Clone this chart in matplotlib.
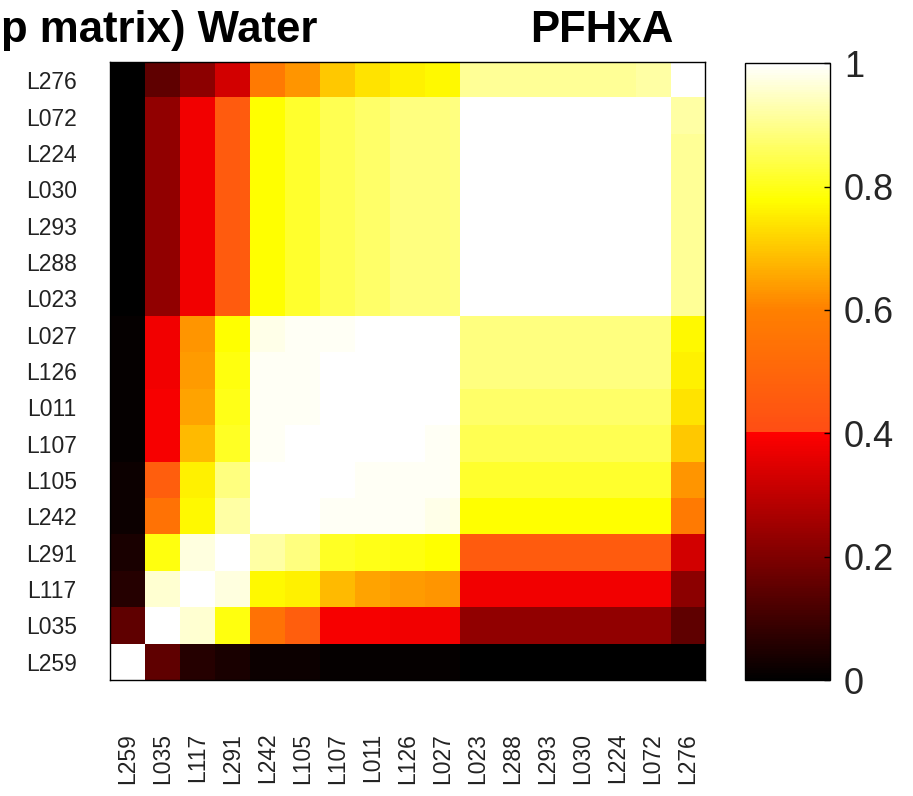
import numpy as np
import matplotlib
matplotlib.use("Agg")
import matplotlib.pyplot as plt
from matplotlib.colors import LinearSegmentedColormap

plt.rcParams['font.family'] = ['Liberation Sans', 'DejaVu Sans']

# sample order (bottom -> top on y, left -> right on x)
labels = ["L259", "L035", "L117", "L291", "L242", "L105", "L107", "L011", "L126",
          "L027", "L023", "L288", "L293", "L030", "L224", "L072", "L276"]

# upper triangle of the symmetric matrix, row i holds values for columns j > i
upper = [
    [0.15, 0.06, 0.04, 0.02, 0.02, 0.01, 0.01, 0.01, 0.01, 0.0, 0.0, 0.0, 0.0, 0.0, 0.0, 0.0],
    [0.96, 0.79, 0.55, 0.47, 0.39, 0.39, 0.38, 0.38, 0.23, 0.23, 0.23, 0.23, 0.23, 0.23, 0.15],
    [0.97, 0.77, 0.76, 0.68, 0.65, 0.64, 0.63, 0.38, 0.38, 0.38, 0.38, 0.38, 0.38, 0.22],
    [0.92, 0.89, 0.81, 0.80, 0.79, 0.78, 0.46, 0.46, 0.46, 0.46, 0.46, 0.46, 0.33],
    [1.00, 0.99, 0.99, 0.99, 0.98, 0.78, 0.78, 0.78, 0.78, 0.78, 0.78, 0.58],
    [1.00, 0.99, 0.99, 0.99, 0.82, 0.82, 0.82, 0.82, 0.82, 0.82, 0.63],
    [1.00, 1.00, 0.99, 0.85, 0.85, 0.85, 0.85, 0.85, 0.85, 0.70],
    [1.00, 1.00, 0.87, 0.87, 0.87, 0.87, 0.87, 0.87, 0.74],
    [1.00, 0.89, 0.89, 0.89, 0.89, 0.89, 0.89, 0.76],
    [0.89, 0.89, 0.89, 0.89, 0.89, 0.89, 0.77],
    [1.00, 1.00, 1.00, 1.00, 1.00, 0.91],
    [1.00, 1.00, 1.00, 1.00, 0.91],
    [1.00, 1.00, 1.00, 0.91],
    [1.00, 1.00, 0.91],
    [1.00, 0.91],
    [0.92],
    [],
]

cbar_ticks = [0, 0.2, 0.4, 0.6, 0.8, 1]
cbar_labels = ["0", "0.2", "0.4", "0.6", "0.8", "1"]

n = len(labels)
M = np.eye(n)
for i, row in enumerate(upper):
    for k, v in enumerate(row):
        M[i, i + 1 + k] = v
        M[i + 1 + k, i] = v

# hot-like map with a jump at 0.4
cdict = {
    'red':   [(0, 0, 0), (0.4, 1, 1), (1, 1, 1)],
    'green': [(0, 0, 0), (0.4, 0, 0.3), (0.6, 0.5, 0.5), (0.7, 0.78, 0.78),
              (0.78, 1, 1), (1, 1, 1)],
    'blue':  [(0, 0, 0), (0.4, 0, 0.08), (0.6, 0, 0), (0.78, 0, 0), (1, 1, 1)],
}
cmap = LinearSegmentedColormap("hotjump", cdict, N=256)

fig = plt.figure(figsize=(9.13, 7.96), dpi=100)
ax = fig.add_axes([0.1205, 0.1457, 0.6517, 0.7764])
im = ax.imshow(M, cmap=cmap, vmin=0, vmax=1, origin='lower', aspect='auto',
               interpolation='nearest')

ax.set_xticks(range(n))
ax.set_xticklabels(labels, rotation=90, fontsize=16.5, color='#222222')
ax.set_yticks(range(n))
ax.set_yticklabels(labels, fontsize=16.5, color='#222222')
ax.tick_params(axis='x', length=0, pad=38)
ax.tick_params(axis='y', length=0, pad=24)
for s in ax.spines.values():
    s.set_linewidth(1.0)

cax = fig.add_axes([0.816, 0.1457, 0.0931, 0.775])
cb = fig.colorbar(im, cax=cax, ticks=cbar_ticks)
cb.ax.set_yticklabels(cbar_labels, fontsize=26, color='#262626')
cb.ax.tick_params(direction='in', length=4, width=1, pad=10)
cb.outline.set_linewidth(1.0)

fig.text(1 / 913, 1 - 42 / 796, "p matrix) Water", fontsize=31.5,
         fontweight='bold', ha='left', va='baseline')
fig.text(530 / 913, 1 - 42 / 796, "PFHxA", fontsize=31.5,
         fontweight='bold', ha='left', va='baseline')

fig.savefig("out.png", dpi=100)
